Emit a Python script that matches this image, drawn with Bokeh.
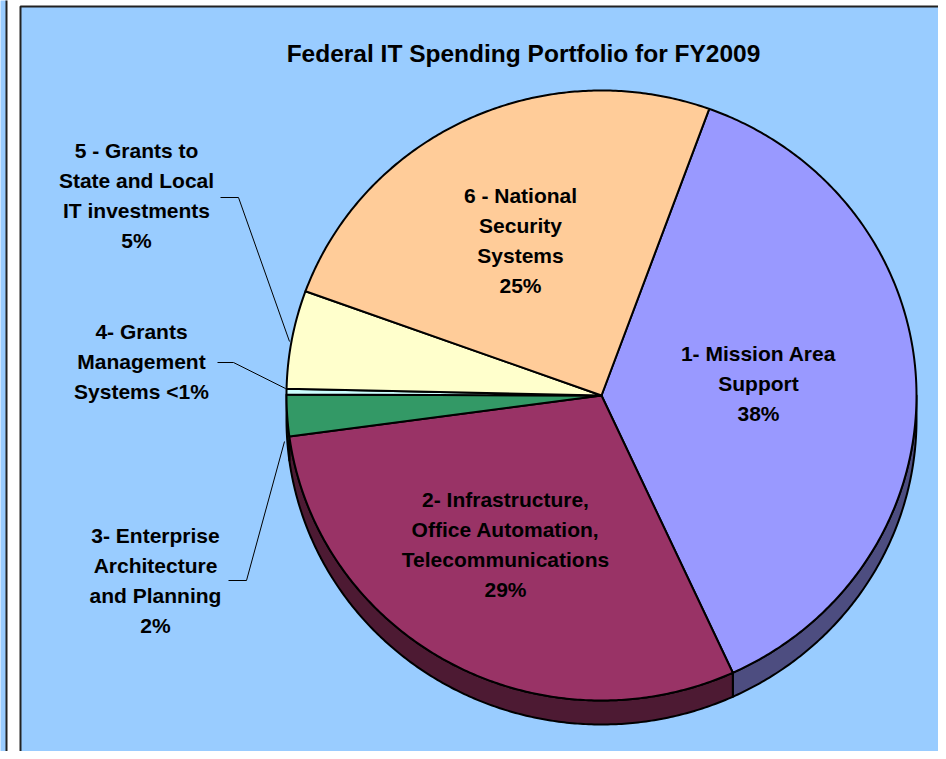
import numpy as np
from bokeh.plotting import figure
from bokeh.models import Range1d
from bokeh.core.properties import value
from bokeh.embed import file_html
from bokeh.resources import INLINE

# ---- data ----
categories = [
    "1- Mission Area Support",
    "2- Infrastructure, Office Automation, Telecommunications",
    "3- Enterprise Architecture and Planning",
    "4- Grants Management Systems",
    "5 - Grants to State and Local IT investments",
    "6 - National Security Systems",
]
shares = [37.6, 29.7, 2.2, 0.3, 5.2, 25.0]
pct_labels = ["38%", "29%", "2%", "<1%", "5%", "25%"]
label_lines = [
    ["1- Mission Area", "Support", pct_labels[0]],
    ["2- Infrastructure,", "Office Automation,", "Telecommunications", pct_labels[1]],
    ["3- Enterprise", "Architecture", "and Planning", pct_labels[2]],
    ["4- Grants", "Management", "Systems " + pct_labels[3]],
    ["5 - Grants to", "State and Local", "IT investments", pct_labels[4]],
    ["6 - National", "Security", "Systems", pct_labels[5]],
]
title = "Federal IT Spending Portfolio for FY2009"

# ---- styles / layout ----
top_colors = ["#9999FF", "#993366", "#339966", "#CCFFFF", "#FFFFCC", "#FFCC99"]
side_colors = ["#4D4D80", "#4D1A33", "#1A4D33", "#668080", "#80804D", "#80664D"]
BG = "#99CCFF"
CX, CY, RX, RY, DEPTH = 601, 395, 315, 305, 24
START = 20.0  # compass degrees, clockwise
label_anchor = [(758, 353), (505, 499), (155, 535), (141, 331), (136, 150), (520, 195)]
LINE_H = 30
FONT = "Liberation Sans"

p = figure(width=938, height=751, x_range=Range1d(0, 938), y_range=Range1d(751, 0),
           output_backend="svg", toolbar_location=None, min_border=0,
           x_axis_location=None, y_axis_location=None,
           background_fill_color="white", border_fill_color="white",
           outline_line_color=None)
p.grid.visible = False

# neighbouring panel strip and main panel
p.quad(left=-20, right=6, top=-20, bottom=800, fill_color=BG, line_color="#222222", line_width=2)
p.quad(left=20, right=980, top=6, bottom=800, fill_color=BG, line_color="#222222", line_width=2)


def arc(a0, a1, dy=0.0):
    t = np.radians(np.linspace(a0, a1, max(int(abs(a1 - a0) * 2) + 2, 3)))
    return CX + RX * np.sin(t), CY + dy - RY * np.cos(t)


total = sum(shares)
bounds = [START]
for s in shares:
    bounds.append(bounds[-1] + s / total * 360.0)

# 3D side (visible lower half: compass 90..270, also 450..630)
sx, sy, sc = [], [], []
for i in range(len(shares)):
    a0, a1 = bounds[i], bounds[i + 1]
    for lo, hi in [(90, 270), (450, 630)]:
        b0, b1 = max(a0, lo), min(a1, hi)
        if b1 > b0:
            x1, y1 = arc(b0, b1)
            x2, y2 = arc(b1, b0, DEPTH)
            sx.append(list(x1) + list(x2))
            sy.append(list(y1) + list(y2))
            sc.append(side_colors[i])
p.patches(sx, sy, fill_color=sc, line_color="black", line_width=2, line_join="round")

# top faces
tx, ty = [], []
for i in range(len(shares)):
    x, y = arc(bounds[i], bounds[i + 1])
    tx.append([CX] + list(x))
    ty.append([CY] + list(y))
p.patches(tx, ty, fill_color=top_colors, line_color="black", line_width=2, line_join="round")

# leader lines for outside labels
p.multi_line(xs=[[220, 238, 289], [217, 233, 285], [228, 246, 284]],
             ys=[[197, 197, 341], [362, 362, 388], [580, 580, 441]],
             line_color="black", line_width=1)

# labels
lx, ly, lt = [], [], []
for (ax, ay), lines in zip(label_anchor, label_lines):
    for k, s in enumerate(lines):
        lx.append(ax)
        ly.append(ay + k * LINE_H)
        lt.append(s)
p.text(x=lx, y=ly, text=lt, text_align="center", text_baseline="middle",
       text_font=value(FONT), text_font_style="bold", text_font_size="21px",
       text_color="black")

p.text(x=[523], y=[53], text=[title], text_align="center", text_baseline="middle",
       text_font=value(FONT), text_font_style="bold", text_font_size="24.5px",
       text_color="black")

open("out.html", "w").write(file_html(p, INLINE))
